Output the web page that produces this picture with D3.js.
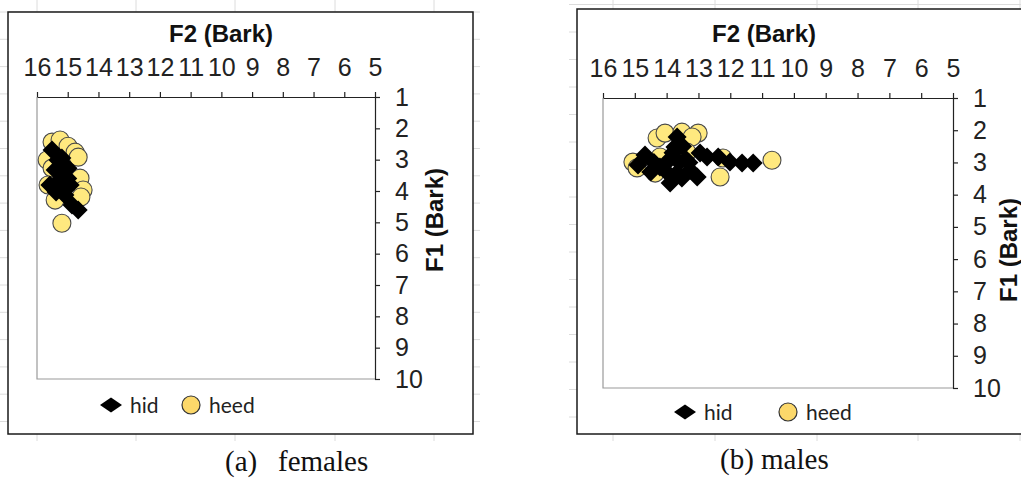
<!DOCTYPE html>
<html>
<head>
<meta charset="utf-8">
<script src="https://cdn.jsdelivr.net/npm/d3@7"></script>
<style>
  body { margin: 0; background: #fff; }
  svg { display: block; }
  .tick text { font-family: "Liberation Sans", Arial, sans-serif; font-size: 25px; fill: #222; }
</style>
</head>
<body>
<div id="chart"></div>
<script>
// Tick values and series names
var f2Ticks = [16, 15, 14, 13, 12, 11, 10, 9, 8, 7, 6, 5];
var f1Ticks = [1, 2, 3, 4, 5, 6, 7, 8, 9, 10];
var seriesNames = ["hid", "heed"];

// Females (a)
var femaleHidF2  = [15.51, 15.32, 15.41, 15.19, 14.99, 15.58, 15.25, 14.92, 15.09, 14.86, 14.66, 15.19, 15.38, 15.3, 15.0];
var femaleHidF1  = [2.69, 3.01, 3.33, 3.49, 3.27, 3.81, 3.91, 3.81, 4.13, 4.45, 4.61, 2.95, 4.03, 3.7, 3.6];
var femaleHeedF2 = [15.51, 15.25, 14.99, 14.76, 14.66, 15.67, 15.51, 14.60, 14.50, 14.57, 15.41, 15.19, 15.64];
var femaleHeedF1 = [2.44, 2.37, 2.57, 2.76, 2.92, 3.01, 3.27, 3.59, 3.97, 4.19, 4.29, 5.03, 3.81];

// Males (b)
var maleHidF2  = [14.68, 14.90, 13.89, 13.74, 13.67, 13.26, 12.95, 12.73, 12.38, 12.01, 11.63, 11.28, 13.52, 13.04, 14.21,
                  13.9, 13.6, 13.4, 14.0, 13.7, 13.3, 14.4, 14.5, 13.8, 13.5];
var maleHidF1  = [2.77, 3.08, 3.64, 2.52, 2.21, 3.24, 2.71, 2.83, 2.83, 2.99, 3.02, 3.02, 3.48, 3.45, 3.14,
                  2.9, 3.0, 2.9, 3.3, 3.35, 3.0, 3.0, 3.3, 2.7, 2.5];
var maleHeedF2 = [15.06, 14.93, 14.36, 14.30, 14.05, 13.52, 13.01, 13.20, 14.21, 12.32, 12.23, 10.69, 13.36];
var maleHeedF1 = [2.99, 3.17, 3.33, 2.24, 2.09, 2.06, 2.09, 2.21, 2.83, 3.45, 2.86, 2.93, 2.68];

var width = 1021, height = 481;
var svg = d3.select("#chart").append("svg")
  .attr("width", width).attr("height", height);

function pairs(xs, ys) {
  return xs.map(function(x, i) { return { f2: x, f1: ys[i] }; });
}

function diamond(w, h) {
  return "M0," + (-h) + "L" + w + ",0L0," + h + "L" + (-w) + ",0Z";
}

// Panel layouts
var panels = [
  {
    box: [8, 12, 465, 422], plot: [37, 97, 375, 379],
    gridX: [37, 136, 235, 335, 434], gridY0: 12, gridStep: 27.3,
    strip: [0, 0, 480, 441],
    title: [221, 42], f1Label: [443, 220],
    legend: { dia: [111, 405], hid: [130, 413], circ: [191, 405], heed: [209, 413] },
    caption: [[225, "(a)"], [278, "females"]], captionY: 471,
    hid: pairs(femaleHidF2, femaleHidF1), heed: pairs(femaleHeedF2, femaleHeedF1)
  },
  {
    box: [577, 9, 460, 425], plot: [603, 98, 953, 388],
    gridX: [613, 715, 817, 918, 1020], gridY0: 4.5, gridStep: 27.5,
    strip: [569, 0, 1030, 441],
    title: [764, 42], f1Label: [1017, 250],
    legend: { dia: [685, 412], hid: [704, 420], circ: [788, 412], heed: [806, 420] },
    caption: [[720, "(b) males"]], captionY: 469,
    hid: pairs(maleHidF2, maleHidF1), heed: pairs(maleHeedF2, maleHeedF1)
  }
];

panels.forEach(function(p, idx) {
  var g = svg.append("g");

  // faint sheet gridlines just around the chart box
  var clipId = "strip" + idx;
  svg.append("clipPath").attr("id", clipId).append("rect")
    .attr("x", p.strip[0]).attr("y", p.strip[1])
    .attr("width", p.strip[2] - p.strip[0]).attr("height", p.strip[3] - p.strip[1]);
  var grid = g.append("g").attr("clip-path", "url(#" + clipId + ")")
    .attr("stroke", "#dcdcdc").attr("stroke-width", 1);
  p.gridX.forEach(function(x) {
    grid.append("line").attr("x1", x).attr("x2", x).attr("y1", 0).attr("y2", 481);
  });
  for (var y = p.gridY0; y < 481; y += p.gridStep) {
    grid.append("line").attr("x1", p.strip[0]).attr("x2", p.strip[2]).attr("y1", y).attr("y2", y);
  }

  // chart box
  g.append("rect")
    .attr("x", p.box[0]).attr("y", p.box[1])
    .attr("width", p.box[2]).attr("height", p.box[3])
    .attr("fill", "#fff").attr("stroke", "#1a1a1a").attr("stroke-width", 1.5);

  var x = d3.scaleLinear().domain([16, 5]).range([p.plot[0], p.plot[2]]);
  var y1 = d3.scaleLinear().domain([1, 10]).range([p.plot[1], p.plot[3]]);

  // plot area left and bottom border
  g.append("path")
    .attr("d", "M" + p.plot[0] + "," + p.plot[1] + "V" + p.plot[3] + "H" + p.plot[2])
    .attr("fill", "none").attr("stroke", "#9a9a9a").attr("stroke-width", 1.2);

  // axes
  var xAxis = g.append("g")
    .attr("transform", "translate(0," + p.plot[1] + ")")
    .call(d3.axisTop(x).tickValues(f2Ticks).tickSize(5).tickSizeOuter(0).tickPadding(16).tickFormat(d3.format("d")));
  var yAxis = g.append("g")
    .attr("transform", "translate(" + p.plot[2] + ",0)")
    .call(d3.axisRight(y1).tickValues(f1Ticks).tickSize(5).tickSizeOuter(0).tickPadding(15).tickFormat(d3.format("d")));
  [xAxis, yAxis].forEach(function(a) {
    a.select(".domain").attr("stroke", "#222").attr("stroke-width", 1.2);
    a.selectAll(".tick line").attr("stroke", "#222").attr("stroke-width", 1.2);
  });

  // titles
  g.append("text")
    .attr("x", p.title[0]).attr("y", p.title[1])
    .attr("text-anchor", "middle")
    .style("font-family", "Liberation Sans, Arial, sans-serif")
    .style("font-weight", "bold").style("font-size", "24px").attr("fill", "#111")
    .text("F2 (Bark)");
  g.append("text")
    .attr("transform", "translate(" + p.f1Label[0] + "," + p.f1Label[1] + ") rotate(-90)")
    .attr("text-anchor", "middle")
    .style("font-family", "Liberation Sans, Arial, sans-serif")
    .style("font-weight", "bold").style("font-size", "24px").attr("fill", "#111")
    .text("F1 (Bark)");

  // markers: heed circles first, hid diamonds on top
  g.append("g").selectAll("circle")
    .data(p.heed).join("circle")
    .attr("cx", function(d) { return x(d.f2); })
    .attr("cy", function(d) { return y1(d.f1); })
    .attr("r", 9)
    .attr("fill", "#ffe97f").attr("stroke", "#4a4a4a").attr("stroke-width", 1.1);
  g.append("g").selectAll("path")
    .data(p.hid).join("path")
    .attr("transform", function(d) { return "translate(" + x(d.f2) + "," + y1(d.f1) + ")"; })
    .attr("d", diamond(9.5, 9.5))
    .attr("fill", "#000");

  // legend
  var lg = g.append("g")
    .style("font-family", "Lato, 'Open Sans', sans-serif").style("font-size", "21px").attr("fill", "#222");
  lg.append("path")
    .attr("transform", "translate(" + p.legend.dia[0] + "," + p.legend.dia[1] + ")")
    .attr("d", diamond(11, 7.5)).attr("fill", "#000");
  lg.append("text").attr("x", p.legend.hid[0]).attr("y", p.legend.hid[1]).text(seriesNames[0]);
  lg.append("circle")
    .attr("cx", p.legend.circ[0]).attr("cy", p.legend.circ[1]).attr("r", 9)
    .attr("fill", "#fcd86a").attr("stroke", "#333").attr("stroke-width", 1.2);
  lg.append("text").attr("x", p.legend.heed[0]).attr("y", p.legend.heed[1]).text(seriesNames[1]);

  // caption
  p.caption.forEach(function(c) {
    svg.append("text")
      .attr("x", c[0]).attr("y", p.captionY)
      .style("font-family", "Liberation Serif, 'Times New Roman', serif").style("font-size", "29px")
      .attr("fill", "#111")
      .text(c[1]);
  });
});
</script>
</body>
</html>
